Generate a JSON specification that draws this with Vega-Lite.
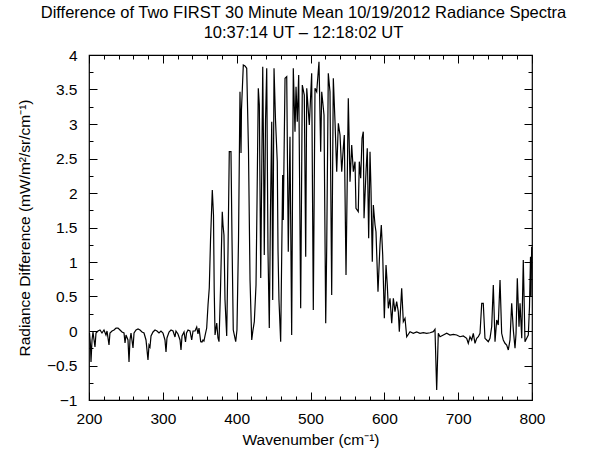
{
  "$schema": "https://vega.github.io/schema/vega-lite/v6.json",
  "width": 443,
  "height": 345,
  "autosize": "none",
  "padding": {"left": 89, "top": 55, "right": 75, "bottom": 58},
  "background": "white",
  "config": {
    "view": {"stroke": "black", "strokeWidth": 1.2},
    "font": "Liberation Sans",
    "axis": {"domain": false, "grid": false, "tickColor": "black", "labelColor": "black", "titleColor": "black", "labelFont": "Liberation Sans", "titleFont": "Liberation Sans", "labelFontSize": 15.5, "titleFontSize": 15.5, "titleFontWeight": "normal", "tickWidth": 1, "labelFlush": false, "labelOverlap": false}
  },
  "title": {
    "text": ["Difference of Two FIRST 30 Minute Mean 10/19/2012 Radiance Spectra", "10:37:14 UT – 12:18:02 UT"],
    "fontSize": 16.5,
    "fontWeight": "normal",
    "font": "Liberation Sans",
    "color": "black",
    "anchor": "middle",
    "dx": -7,
    "offset": 7,
    "lineHeight": 20
  },
  "datasets": {
    "spec": [
      {"wn":200.7,"rad":-0.029},{"wn":202.0,"rad":-0.203},{"wn":202.7,"rad":-0.449},{"wn":204.1,"rad":-0.130},{"wn":205.4,"rad":-0.014},{"wn":208.1,"rad":-0.232},{"wn":209.5,"rad":-0.029},{"wn":212.2,"rad":0.0},{"wn":214.9,"rad":0.014},{"wn":217.6,"rad":-0.029},{"wn":220.3,"rad":0.014},{"wn":223.0,"rad":-0.058},{"wn":224.4,"rad":0.0},{"wn":227.1,"rad":-0.203},{"wn":228.4,"rad":-0.029},{"wn":231.2,"rad":0.0},{"wn":233.9,"rad":0.014},{"wn":236.6,"rad":0.043},{"wn":239.3,"rad":0.043},{"wn":242.0,"rad":0.014},{"wn":244.7,"rad":-0.014},{"wn":247.4,"rad":-0.029},{"wn":248.8,"rad":-0.174},{"wn":250.1,"rad":-0.058},{"wn":252.8,"rad":-0.13},{"wn":254.2,"rad":-0.449},{"wn":255.5,"rad":-0.13},{"wn":256.9,"rad":-0.029},{"wn":259.6,"rad":-0.246},{"wn":261.0,"rad":-0.029},{"wn":263.7,"rad":0.014},{"wn":266.4,"rad":0.029},{"wn":269.1,"rad":0.014},{"wn":271.8,"rad":-0.014},{"wn":274.5,"rad":-0.029},{"wn":277.2,"rad":-0.13},{"wn":279.9,"rad":-0.42},{"wn":281.3,"rad":-0.203},{"wn":282.6,"rad":-0.232},{"wn":284.0,"rad":-0.072},{"wn":286.7,"rad":-0.014},{"wn":289.4,"rad":0.014},{"wn":292.1,"rad":0.0},{"wn":294.8,"rad":-0.029},{"wn":297.5,"rad":0.0},{"wn":300.2,"rad":-0.029},{"wn":302.9,"rad":-0.13},{"wn":304.3,"rad":-0.304},{"wn":305.6,"rad":-0.101},{"wn":308.4,"rad":-0.014},{"wn":311.1,"rad":0.014},{"wn":313.8,"rad":0.0},{"wn":316.5,"rad":-0.087},{"wn":317.8,"rad":0.0},{"wn":320.5,"rad":-0.043},{"wn":323.3,"rad":-0.13},{"wn":324.6,"rad":-0.275},{"wn":326.0,"rad":-0.072},{"wn":328.7,"rad":-0.014},{"wn":330.7,"rad":-0.159},{"wn":332.1,"rad":-0.029},{"wn":334.1,"rad":0.014},{"wn":336.8,"rad":0.0},{"wn":339.1,"rad":-0.13},{"wn":340.9,"rad":0.0},{"wn":343.6,"rad":0.0},{"wn":345.9,"rad":0.058},{"wn":347.6,"rad":-0.043},{"wn":349.0,"rad":0.043},{"wn":351.3,"rad":-0.155},{"wn":353.0,"rad":-0.159},{"wn":354.4,"rad":-0.13},{"wn":355.7,"rad":-0.145},{"wn":357.1,"rad":-0.072},
      {"wn":359.4,"rad":0.043},{"wn":361.2,"rad":0.377},{"wn":362.9,"rad":0.623},{"wn":364.6,"rad":1.319},{"wn":367.0,"rad":2.043},{"wn":368.6,"rad":1.681},{"wn":369.6,"rad":0.594},{"wn":370.7,"rad":-0.058},{"wn":373.0,"rad":0.116},{"wn":374.7,"rad":-0.101},{"wn":376.1,"rad":-0.155},{"wn":378.1,"rad":0.594},{"wn":380.5,"rad":1.729},{"wn":381.5,"rad":1.536},{"wn":382.8,"rad":1.391},{"wn":384.2,"rad":0.449},{"wn":386.5,"rad":-0.072},{"wn":388.3,"rad":1.174},{"wn":390.0,"rad":2.599},{"wn":392.3,"rad":2.599},{"wn":393.7,"rad":1.319},{"wn":395.4,"rad":0.014},{"wn":398.7,"rad":-0.155},{"wn":400.4,"rad":0.014},{"wn":402.5,"rad":1.319},{"wn":404.5,"rad":3.468},{"wn":405.9,"rad":2.58},{"wn":406.5,"rad":3.203},{"wn":409.0,"rad":3.855},{"wn":411.3,"rad":3.841},{"wn":413.6,"rad":3.807},{"wn":416.0,"rad":2.623},{"wn":418.1,"rad":0.739},{"wn":420.4,"rad":-0.13},{"wn":422.1,"rad":0.014},{"wn":423.9,"rad":0.135},{"wn":426.2,"rad":0.667},{"wn":427.6,"rad":1.899},{"wn":429.3,"rad":3.517},{"wn":430.7,"rad":3.275},{"wn":432.6,"rad":0.768},{"wn":435.3,"rad":3.83},{"wn":436.4,"rad":2.623},{"wn":437.4,"rad":1.101},{"wn":439.1,"rad":3.058},{"wn":440.7,"rad":3.807},{"wn":442.4,"rad":1.174},{"wn":444.2,"rad":0.043},{"wn":445.8,"rad":1.754},{"wn":447.5,"rad":3.033},{"wn":448.8,"rad":0.449},{"wn":450.6,"rad":3.807},{"wn":452.6,"rad":3.058},{"wn":455.0,"rad":2.454},{"wn":456.0,"rad":1.174},{"wn":457.3,"rad":0.449},{"wn":459.6,"rad":-0.155},{"wn":462.3,"rad":2.261},{"wn":463.1,"rad":1.609},{"wn":465.5,"rad":3.662},{"wn":467.8,"rad":3.686},{"wn":469.9,"rad":1.149},{"wn":472.2,"rad":2.816},{"wn":474.5,"rad":-0.058},{"wn":476.7,"rad":3.807},{"wn":479.0,"rad":2.888},{"wn":480.4,"rad":3.541},{"wn":482.1,"rad":3.033},{"wn":484.0,"rad":3.71},{"wn":486.7,"rad":0.329},{"wn":488.9,"rad":3.565},{"wn":491.6,"rad":3.42},{"wn":493.5,"rad":1.077},{"wn":494.9,"rad":3.517},{"wn":498.4,"rad":2.986},{"wn":501.6,"rad":3.735},{"wn":503.8,"rad":0.304},{"wn":506.1,"rad":3.517},{"wn":508.4,"rad":3.468},{"wn":511.5,"rad":3.903},{"wn":513.8,"rad":2.599},{"wn":515.2,"rad":3.468},{"wn":518.3,"rad":3.13},{"wn":520.6,"rad":0.112},{"wn":522.0,"rad":1.246},{"wn":524.1,"rad":3.735},{"wn":526.4,"rad":3.468},{"wn":528.7,"rad":0.522},{"wn":530.9,"rad":3.662},{"wn":533.2,"rad":3.033},{"wn":535.5,"rad":2.309},{"wn":537.7,"rad":3.01},{"wn":540.0,"rad":2.841},{"wn":542.3,"rad":2.309},{"wn":544.4,"rad":2.648},{"wn":545.8,"rad":2.841},{"wn":548.1,"rad":0.812},{"wn":551.2,"rad":3.372},{"wn":553.5,"rad":2.164},{"wn":555.8,"rad":2.696},{"wn":558.0,"rad":2.309},{"wn":560.3,"rad":2.454},{"wn":561.6,"rad":1.778},{"wn":564.7,"rad":1.729},{"wn":566.1,"rad":2.454},{"wn":568.0,"rad":2.213},{"wn":569.8,"rad":2.793},{"wn":571.5,"rad":2.888},{"wn":572.5,"rad":1.633},{"wn":575.2,"rad":2.309},{"wn":576.9,"rad":2.648},{"wn":578.8,"rad":1.343},{"wn":580.6,"rad":2.599},{"wn":581.9,"rad":2.068},{"wn":583.7,"rad":1.004},{"wn":585.1,"rad":1.826},{"wn":587.4,"rad":1.536},{"wn":588.7,"rad":1.439},{"wn":591.4,"rad":0.57},{"wn":594.1,"rad":1.246},{"wn":595.9,"rad":1.536},{"wn":597.8,"rad":1.101},{"wn":600.0,"rad":0.184},{"wn":602.3,"rad":0.957},{"wn":604.0,"rad":0.667},{"wn":605.4,"rad":0.329},{"wn":607.7,"rad":0.474},{"wn":610.0,"rad":0.112},{"wn":612.2,"rad":0.474},{"wn":614.4,"rad":0.28},{"wn":616.7,"rad":0.425},{"wn":618.9,"rad":0.28},{"wn":620.3,"rad":-0.01},{"wn":623.5,"rad":0.619},{"wn":625.7,"rad":0.135},{"wn":628.0,"rad":0.184},{"wn":630.3,"rad":-0.083},
      {"wn":634.8,"rad":-0.01},{"wn":639.2,"rad":-0.033},{"wn":643.8,"rad":-0.014},{"wn":648.3,"rad":-0.033},{"wn":652.8,"rad":-0.025},{"wn":657.4,"rad":-0.033},{"wn":661.9,"rad":-0.025},{"wn":666.3,"rad":-0.01},{"wn":668.6,"rad":0.025},{"wn":670.9,"rad":-0.855},{"wn":673.1,"rad":-0.033},{"wn":675.4,"rad":-0.083},{"wn":679.9,"rad":-0.058},{"wn":684.5,"rad":-0.033},{"wn":688.9,"rad":-0.058},{"wn":693.4,"rad":-0.048},{"wn":698.0,"rad":-0.058},{"wn":702.5,"rad":-0.083},{"wn":706.9,"rad":-0.072},{"wn":711.5,"rad":-0.106},{"wn":713.7,"rad":-0.178},{"wn":716.0,"rad":-0.083},{"wn":718.3,"rad":-0.13},{"wn":720.5,"rad":-0.033},{"wn":722.8,"rad":-0.178},{"wn":725.1,"rad":-0.106},{"wn":727.3,"rad":-0.083},{"wn":729.6,"rad":-0.033},{"wn":731.9,"rad":0.401},{"wn":734.0,"rad":0.401},{"wn":736.3,"rad":-0.106},{"wn":738.6,"rad":-0.13},{"wn":740.8,"rad":-0.155},{"wn":743.1,"rad":-0.106},{"wn":745.4,"rad":0.062},{"wn":747.6,"rad":0.667},{"wn":749.9,"rad":-0.155},{"wn":752.2,"rad":0.159},{"wn":754.3,"rad":0.087},{"wn":756.7,"rad":0.739},{"wn":758.9,"rad":-0.033},{"wn":761.1,"rad":-0.13},{"wn":763.4,"rad":-0.178},{"wn":765.7,"rad":-0.203},{"wn":767.9,"rad":-0.275},{"wn":770.2,"rad":-0.13},{"wn":772.5,"rad":0.401},{"wn":774.7,"rad":0.014},{"wn":777.0,"rad":-0.251},{"wn":778.4,"rad":-0.033},{"wn":780.1,"rad":0.764},{"wn":782.4,"rad":0.062},{"wn":783.8,"rad":0.401},{"wn":786.1,"rad":-0.106},{"wn":788.2,"rad":1.029},{"wn":790.5,"rad":-0.155},{"wn":792.8,"rad":-0.106},{"wn":795.0,"rad":-0.058},{"wn":796.6,"rad":0.352},{"wn":798.0,"rad":1.077},{"wn":798.6,"rad":0.497},{"wn":799.6,"rad":1.222}
    ],
    "anchor": [{"wn": 200, "rad": 0}]
  },
  "resolve": {"axis": {"x": "independent", "y": "independent"}},
  "layer": [
    {
      "data": {"name": "spec"},
      "mark": {"type": "line", "color": "black", "strokeWidth": 1.2, "clip": true},
      "encoding": {
        "x": {"field": "wn", "type": "quantitative", "scale": {"domain": [200, 800], "nice": false, "zero": false},
              "axis": {"orient": "bottom", "values": [200, 300, 400, 500, 600, 700, 800], "format": "d", "tickSize": -8, "labelPadding": 19, "title": "Wavenumber (cm⁻¹)", "titlePadding": 6}},
        "y": {"field": "rad", "type": "quantitative", "scale": {"domain": [-1, 4], "nice": false, "zero": false},
              "axis": {"orient": "left", "values": [-1, -0.5, 0, 0.5, 1, 1.5, 2, 2.5, 3, 3.5, 4], "format": ".1~f", "tickSize": -8, "labelPadding": 20, "title": "Radiance Difference (mW/m²/sr/cm⁻¹)", "titlePadding": 14}}
      }
    },
    {
      "mark": {"type": "rule", "color": "#1a1aff", "strokeDash": [4, 3], "strokeWidth": 1},
      "encoding": {
        "y": {"datum": 0, "type": "quantitative",
              "axis": {"orient": "right", "values": [-1, -0.5, 0, 0.5, 1, 1.5, 2, 2.5, 3, 3.5, 4], "tickSize": -8, "labels": false, "title": null}}
      }
    },
    {
      "data": {"name": "anchor"},
      "mark": {"type": "point", "opacity": 0},
      "encoding": {
        "x": {"field": "wn", "type": "quantitative",
              "axis": {"orient": "top", "values": [200, 300, 400, 500, 600, 700, 800], "tickSize": -8, "labels": false, "title": null}},
        "y": {"field": "rad", "type": "quantitative",
              "axis": {"orient": "left", "values": [-0.75, -0.25, 0.25, 0.75, 1.25, 1.75, 2.25, 2.75, 3.25, 3.75], "tickSize": -4, "labels": false, "title": null}}
      }
    },
    {
      "data": {"name": "anchor"},
      "mark": {"type": "point", "opacity": 0},
      "encoding": {
        "x": {"field": "wn", "type": "quantitative",
              "axis": {"orient": "bottom", "values": [220, 240, 260, 280, 320, 340, 360, 380, 420, 440, 460, 480, 520, 540, 560, 580, 620, 640, 660, 680, 720, 740, 760, 780], "tickSize": -4, "labels": false, "title": null}},
        "y": {"field": "rad", "type": "quantitative",
              "axis": {"orient": "right", "values": [-0.75, -0.25, 0.25, 0.75, 1.25, 1.75, 2.25, 2.75, 3.25, 3.75], "tickSize": -4, "labels": false, "title": null}}
      }
    },
    {
      "data": {"name": "anchor"},
      "mark": {"type": "point", "opacity": 0},
      "encoding": {
        "x": {"field": "wn", "type": "quantitative",
              "axis": {"orient": "top", "values": [220, 240, 260, 280, 320, 340, 360, 380, 420, 440, 460, 480, 520, 540, 560, 580, 620, 640, 660, 680, 720, 740, 760, 780], "tickSize": -4, "labels": false, "title": null}}
      }
    }
  ]
}
